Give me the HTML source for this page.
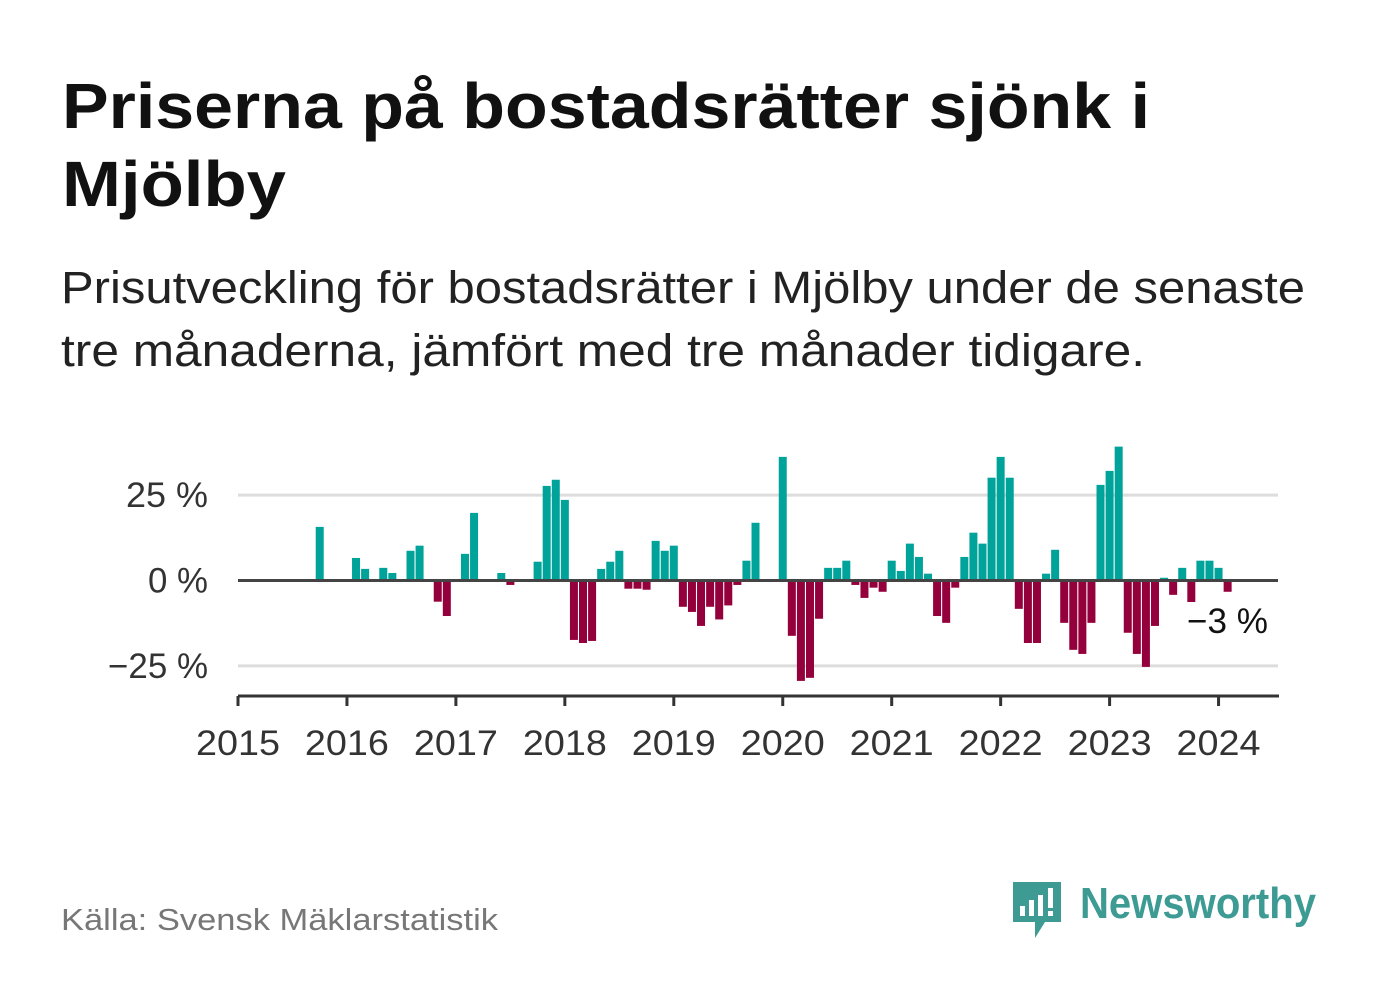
<!DOCTYPE html>
<html><head><meta charset="utf-8">
<style>
body{margin:0;background:#fff;width:1382px;height:999px;overflow:hidden;font-family:"Liberation Sans",sans-serif;}
svg{position:absolute;left:0;top:0}
</style></head>
<body>
<svg width="1382" height="999">
<text x="62" y="128" font-size="64" font-weight="bold" fill="#111" textLength="1088" lengthAdjust="spacingAndGlyphs">Priserna på bostadsrätter sjönk i</text>
<text x="62" y="206" font-size="64" font-weight="bold" fill="#111" textLength="224" lengthAdjust="spacingAndGlyphs">Mjölby</text>
<text x="61" y="303" font-size="45" fill="#222" textLength="1244" lengthAdjust="spacingAndGlyphs">Prisutveckling för bostadsrätter i Mjölby under de senaste</text>
<text x="61" y="366" font-size="45" fill="#222" textLength="1084" lengthAdjust="spacingAndGlyphs">tre månaderna, jämfört med tre månader tidigare.</text>
<g id="grid"></g>
<g id="bars"></g>
<g id="axis"></g>
<text x="1187" y="633" font-size="35" fill="#111" textLength="81" lengthAdjust="spacingAndGlyphs">−3 %</text>
<text x="61" y="930" font-size="31" fill="#777" textLength="437" lengthAdjust="spacingAndGlyphs">Källa: Svensk Mäklarstatistik</text>
<g>
<path d="M1013 882h48v40h-16l-10 16v-16h-22z" fill="#3d9b94"/>
<rect x="1020" y="906" width="5" height="10" fill="#fff"/>
<rect x="1029" y="900" width="5" height="16" fill="#fff"/>
<rect x="1038" y="895" width="5" height="21" fill="#fff"/>
<rect x="1048" y="888" width="5" height="20" fill="#fff"/>
<rect x="1048" y="911" width="5" height="5" fill="#fff"/>
<text x="1080" y="918" font-size="44" font-weight="bold" fill="#3d9b94" textLength="236" lengthAdjust="spacingAndGlyphs">Newsworthy</text>
</g>
</svg>
<script>
const startYear = 2015;
const yTicks = [25, 0, -25];
const yTickLabels = ["25 %", "0 %", "−25 %"];
const xYears = [2015,2016,2017,2018,2019,2020,2021,2022,2023,2024];
const monthIndex = [9,13,14,16,17,19,20,22,23,25,26,29,30,33,34,35,36,37,38,39,40,41,42,43,44,45,46,47,48,49,50,51,52,53,54,55,56,57,60,61,62,63,64,65,66,67,68,69,70,71,72,73,74,75,76,77,78,79,80,81,82,83,84,85,86,87,88,89,90,91,92,93,94,95,96,97,98,99,100,101,102,103,104,105,106,107,108,109];
const values = [15.7,6.6,3.4,3.7,2.2,8.7,10.2,-6.2,-10.4,7.8,19.8,2.2,-1.3,5.5,27.7,29.5,23.6,-17.4,-18.3,-17.7,3.4,5.5,8.7,-2.4,-2.4,-2.7,11.6,8.7,10.2,-7.7,-9.2,-13.3,-7.7,-11.4,-7.3,-1.3,5.8,16.9,36.2,-16.2,-29.4,-28.5,-11.2,3.7,3.7,5.8,-1.3,-5.1,-2.1,-3.3,5.8,2.8,10.8,6.9,2.0,-10.4,-12.4,-2.1,6.9,14.0,10.8,30.1,36.2,30.1,-8.3,-18.3,-18.3,2.0,9.0,-12.4,-20.3,-21.5,-12.4,28.0,32.1,39.2,-15.3,-21.5,-25.3,-13.3,0.8,-4.2,3.7,-6.3,5.8,5.8,3.7,-3.3];

const NS="http://www.w3.org/2000/svg";
const x0=238, yearW=108.95, y0=580.5, pxPer=3.415;
function xScale(m){return x0 + m*yearW/12;}
function yScale(v){return y0 - v*pxPer;}
function mk(tag,attrs,parent){const e=document.createElementNS(NS,tag);for(const k in attrs)e.setAttribute(k,attrs[k]);parent.appendChild(e);return e;}
const grid=document.getElementById('grid'),bars=document.getElementById('bars'),axis=document.getElementById('axis');
yTicks.forEach((t,i)=>{
  if(t!==0){
    const l=mk('line',{x1:238,x2:1278,y1:yScale(t),y2:yScale(t),stroke:'#ddd','stroke-width':3},grid);
    
    
  }
  const w = yTickLabels[i].length>=5?100:(yTickLabels[i].length===4?82:60);
  const tx=mk('text',{x:208,y:yScale(t)+12,'font-size':35,fill:'#333','text-anchor':'end',textLength:w,lengthAdjust:'spacingAndGlyphs'},grid);
  tx.textContent=yTickLabels[i];
  
  
});
monthIndex.forEach((m,i)=>{
  const v=values[i];const cx=xScale(m);
  const y=v>=0?yScale(v):y0;const h=Math.abs(yScale(v)-y0);
  const r=mk('rect',{x:cx-4,y:y,width:8,height:h,fill:v>=0?'#00a39a':'#94003b'},bars);
  
  
});
const zl=mk('line',{x1:238,x2:1278,y1:y0,y2:y0,stroke:'#444','stroke-width':3},axis);


const ax=mk('line',{x1:238,x2:1279,y1:696,y2:696,stroke:'#333','stroke-width':3},axis);


xYears.forEach(yr=>{
  const x=xScale((yr-startYear)*12);
  const tk=mk('line',{x1:x,x2:x,y1:696,y2:706,stroke:'#333','stroke-width':3},axis);
  
  
  const t=mk('text',{x:x,y:755,'font-size':35,fill:'#333','text-anchor':'middle',textLength:84,lengthAdjust:'spacingAndGlyphs'},axis);
  t.textContent=yr;
  
  
});
</script>
</body></html>
